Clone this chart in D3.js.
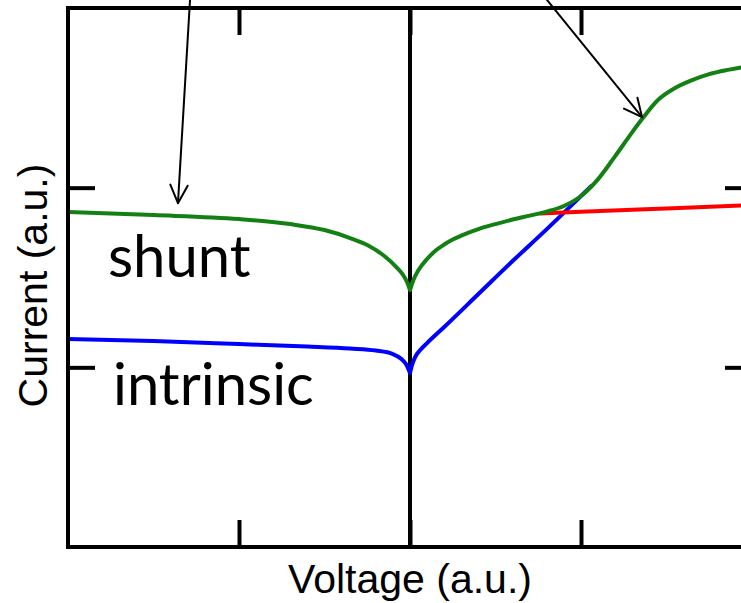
<!DOCTYPE html>
<html>
<head>
<meta charset="utf-8">
<script src="https://cdn.jsdelivr.net/npm/d3@7"></script>
<style>
  html, body { margin: 0; padding: 0; background: #fff; }
  svg { display: block; }
</style>
</head>
<body>
<svg id="chart" width="741" height="603"></svg>
<script>
// Voltage (a.u.) and current (a.u., log scale) for each I-V curve
const shuntV = [-2.0, -1.5, -1.0, -0.7, -0.5, -0.35, -0.25, -0.15, -0.08, -0.04, -0.015, 0,
                0.02, 0.05, 0.1, 0.15, 0.2, 0.25, 0.3, 0.4, 0.5, 0.6, 0.7, 0.8, 0.9, 1.0,
                1.1, 1.2, 1.3, 1.357, 1.45, 1.55, 1.65, 1.75, 1.85, 1.95, 2.0];
const shuntI = [73.13, 70.38, 66.89, 62.71, 58.08, 52.43, 47.93, 41.65, 36.15, 32.64, 29.45, 26.93,
                30.61, 34.79, 40.07, 44.67, 48.24, 51.42, 54.13, 58.82, 62.71, 66.46, 69.93, 73.62, 79.01, 89.81,
                111.6, 149.9, 203.9, 240.8, 307.3, 358.4, 397.0, 428.7, 451.2, 469.0, 475.1];

const intrinsicV = [-2.0, -1.5, -1.0, -0.6, -0.35, -0.2, -0.1, -0.05, -0.02, 0,
                    0.01, 0.03, 0.06, 0.1, 0.2, 0.4, 0.6, 0.8, 1.0, 1.06];
const intrinsicI = [14.37, 14.01, 13.48, 13.05, 12.72, 12.40, 11.86, 11.12, 10.30, 9.29,
                    10.17, 11.41, 12.49, 13.65, 16.76, 25.58, 39.04, 58.82, 89.81, 102.1];

const redV = [0.76, 1.0, 1.5, 2.0];
const redI = [71.8, 73.34, 76.62, 80.04];

// Tick positions
const xTicks = [-1, 0, 1];
const yTicks = [10, 100];

// Annotation arrows (tail and tip in data units)
const arrowTail = [[-1.283, 1260], [0.754, 1260]];
const arrowTip  = [[-1.357, 82.0], [1.357, 247.0]];

// Curve labels
const labelText = ["shunt", "intrinsic"];
const labelV = [-1.766, -1.737];
const labelI = [31.8, 6.17];

const svg = d3.select("#chart");
const mLeft = 68, mRight = 752, mTop = 8, mBottom = 547;

const x = d3.scaleLinear().domain([-2, 2]).range([mLeft, mRight]);
const y = d3.scaleLog().domain([1, 1000]).range([mBottom, mTop]);

const line = d3.line().x(d => x(d[0])).y(d => y(d[1])).curve(d3.curveMonotoneX);

// Build a path that keeps the sharp cusp at zero volts
function cuspPath(vs, is) {
  const pts = vs.map((v, i) => [v, is[i]]);
  const neg = pts.filter(p => p[0] <= 0);
  const pos = pts.filter(p => p[0] >= 0);
  const a = neg.length > 1 ? line(neg) : "";
  const b = pos.length > 1 ? line(pos) : "";
  return a + b;
}

const plot = svg.append("g");

// Zero-voltage line
plot.append("line")
  .attr("x1", x(0)).attr("x2", x(0))
  .attr("y1", mTop).attr("y2", mBottom)
  .attr("stroke", "#000").attr("stroke-width", 4);

// Curves
plot.append("path")
  .attr("d", cuspPath(intrinsicV, intrinsicI))
  .attr("fill", "none").attr("stroke", "#0000ff").attr("stroke-width", 4)
  .attr("stroke-linejoin", "round").attr("stroke-linecap", "round");

plot.append("path")
  .attr("d", line(redV.map((v, i) => [v, redI[i]])))
  .attr("fill", "none").attr("stroke", "#ff0000").attr("stroke-width", 4);

plot.append("path")
  .attr("d", cuspPath(shuntV, shuntI))
  .attr("fill", "none").attr("stroke", "#138013").attr("stroke-width", 4)
  .attr("stroke-linejoin", "round").attr("stroke-linecap", "round");

// Frame
svg.append("rect")
  .attr("x", mLeft).attr("y", mTop)
  .attr("width", mRight - mLeft).attr("height", mBottom - mTop)
  .attr("fill", "none").attr("stroke", "#000").attr("stroke-width", 4);

// Inward ticks on all four sides
const tickLen = 27;
function styleAxis(g) {
  g.select(".domain").remove();
  g.selectAll(".tick line").attr("stroke", "#000").attr("stroke-width", 4);
  g.selectAll(".tick text").remove();
}
svg.append("g").attr("transform", `translate(0,${mBottom})`)
  .call(d3.axisBottom(x).tickValues(xTicks).tickSize(-tickLen).tickFormat(""))
  .call(styleAxis);
svg.append("g").attr("transform", `translate(0,${mTop})`)
  .call(d3.axisTop(x).tickValues(xTicks).tickSize(-tickLen).tickFormat(""))
  .call(styleAxis);
svg.append("g").attr("transform", `translate(${mLeft},0)`)
  .call(d3.axisLeft(y).tickValues(yTicks).tickSize(-tickLen).tickFormat(""))
  .call(styleAxis);
svg.append("g").attr("transform", `translate(${mRight},0)`)
  .call(d3.axisRight(y).tickValues(yTicks).tickSize(-tickLen).tickFormat(""))
  .call(styleAxis);

// Arrows with open heads
const arrows = svg.append("g").attr("fill", "none").attr("stroke", "#000")
  .attr("stroke-width", 2).attr("stroke-linecap", "round").attr("stroke-linejoin", "round");
arrowTail.forEach((t, i) => {
  const x0 = x(t[0]), y0 = y(t[1]);
  const x1 = x(arrowTip[i][0]), y1 = y(arrowTip[i][1]);
  const ang = Math.atan2(y1 - y0, x1 - x0);
  const len = 20, spread = Math.PI / 7;
  const ax = x1 - len * Math.cos(ang - spread), ay = y1 - len * Math.sin(ang - spread);
  const bx = x1 - len * Math.cos(ang + spread), by = y1 - len * Math.sin(ang + spread);
  arrows.append("path").attr("d", `M${x0},${y0}L${x1},${y1}`);
  arrows.append("path").attr("d", `M${ax},${ay}L${x1},${y1}L${bx},${by}`);
});

// Curve labels
labelText.forEach((t, i) => {
  svg.append("text")
    .attr("x", x(labelV[i])).attr("y", y(labelI[i]))
    .attr("font-family", "Lato, 'Open Sans', sans-serif")
    .attr("font-size", 58)
    .attr("fill", "#000")
    .text(t);
});

// Axis titles
svg.append("text")
  .attr("x", x(0)).attr("y", 593)
  .attr("text-anchor", "middle")
  .attr("font-family", "'Liberation Sans', Arial, sans-serif")
  .attr("font-size", 41)
  .attr("fill", "#000")
  .text("Voltage (a.u.)");

svg.append("text")
  .attr("transform", `translate(47,${(mTop + mBottom) / 2 + 8}) rotate(-90)`)
  .attr("text-anchor", "middle")
  .attr("font-family", "'Liberation Sans', Arial, sans-serif")
  .attr("font-size", 41)
  .attr("fill", "#000")
  .text("Current (a.u.)");
</script>
</body>
</html>
